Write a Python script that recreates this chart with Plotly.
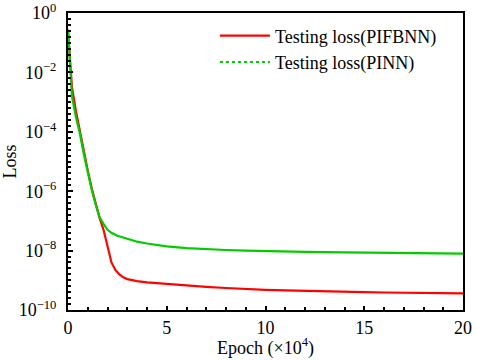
import plotly.graph_objects as go

# Epoch (x 10^4) and log10(loss) values
epoch_pifbnn = [0, 0.1, 0.2, 0.4, 0.6, 0.8, 1.0, 1.2, 1.4, 1.6, 1.8, 2.0, 2.1, 2.2, 2.4, 2.6, 2.8,
                3.0, 3.5, 4.0, 5.0, 6.0, 7.0, 8.0, 9.0, 10, 11, 12, 13, 14, 15, 16, 17, 18, 19, 20]
log_loss_pifbnn = [-0.6, -1.7, -2.5, -3.3, -4.0, -4.7, -5.3, -5.9, -6.45, -6.9, -7.3, -7.9, -8.2,
                   -8.4, -8.65, -8.8, -8.9, -8.96, -9.03, -9.07, -9.12, -9.18, -9.22, -9.26, -9.3,
                   -9.32, -9.34, -9.36, -9.37, -9.39, -9.4, -9.41, -9.42, -9.42, -9.43, -9.44]

epoch_pinn = [0, 0.1, 0.2, 0.4, 0.6, 0.8, 1.0, 1.2, 1.4, 1.6, 1.8, 2.0, 2.2, 2.5, 3.0, 3.5, 4.0,
              5.0, 6.0, 7.0, 8.0, 9.0, 10, 12, 14, 16, 18, 20]
log_loss_pinn = [-0.55, -1.8, -2.8, -3.5, -4.05, -4.75, -5.4, -5.95, -6.45, -6.88, -7.1, -7.3,
                 -7.4, -7.5, -7.6, -7.7, -7.76, -7.86, -7.92, -7.96, -7.98, -8.0, -8.02, -8.04,
                 -8.06, -8.08, -8.09, -8.1]

y_tick_exps = [0, -2, -4, -6, -8, -10]
x_tick_vals = [0, 5, 10, 15, 20]

loss_pifbnn = [10 ** v for v in log_loss_pifbnn]
loss_pinn = [10 ** v for v in log_loss_pinn]

FONT = "Liberation Serif"
RED = "#ff0000"
GREEN = "#00cc00"

fig = go.Figure()
fig.add_trace(go.Scatter(x=epoch_pifbnn, y=loss_pifbnn, mode="lines",
                         line=dict(color=RED, width=2.2), name="Testing loss(PIFBNN)"))
fig.add_trace(go.Scatter(x=epoch_pinn, y=loss_pinn, mode="lines",
                         line=dict(color=GREEN, width=2.2), name="Testing loss(PINN)",
                         showlegend=False))
# legend entry with dotted style
fig.add_trace(go.Scatter(x=[None], y=[None], mode="lines",
                         line=dict(color=GREEN, width=2, dash="dot"), name="Testing loss(PINN)"))

minor_vals = [10 ** (k / 5) for k in range(-50, 1)]

fig.update_layout(
    width=478, height=360,
    margin=dict(l=68, r=15, t=13, b=50, autoexpand=False),
    plot_bgcolor="white", paper_bgcolor="white",
    font=dict(family=FONT, size=18, color="black"),
    legend=dict(x=0.372, y=0.985, xanchor="left", yanchor="top",
                bgcolor="rgba(0,0,0,0)", font=dict(family=FONT, size=18),
                itemwidth=50, tracegroupgap=0),
    xaxis=dict(range=[0, 20], tickvals=x_tick_vals, ticks="inside", ticklen=4,
               tickwidth=1.5, tickcolor="black", showline=True, linewidth=2,
               linecolor="black", mirror=True, showgrid=False, zeroline=False,
               automargin=False,
               tickfont=dict(family=FONT, size=18),
               minor=dict(dtick=1, ticks="inside", ticklen=3, tickcolor="black", tickwidth=1.5)),
    yaxis=dict(type="log", range=[-10, 0],
               tickvals=[10 ** e for e in y_tick_exps],
               ticktext=["10<sup>%s</sup>" % (str(e).replace("-", "−")) for e in y_tick_exps],
               ticks="inside", ticklen=5, tickwidth=1.5, tickcolor="black",
               showline=True, linewidth=2, linecolor="black", mirror=True,
               showgrid=False, zeroline=False, automargin=False,
               ticklabelstandoff=6,
               tickfont=dict(family=FONT, size=18),
               minor=dict(tickvals=minor_vals, ticks="inside", ticklen=3,
                          tickcolor="black", tickwidth=1.5),
               title=dict(text="Loss", font=dict(family=FONT, size=18), standoff=2)),
    annotations=[dict(text="Epoch (×10<sup>4</sup>)", xref="paper", yref="paper",
                      x=0.5, y=-0.125, xanchor="center", yanchor="middle",
                      showarrow=False, font=dict(family=FONT, size=18))],
)

fig.write_html("out.html", post_script="document.body.style.margin='0';",
               config={"displayModeBar": False})
